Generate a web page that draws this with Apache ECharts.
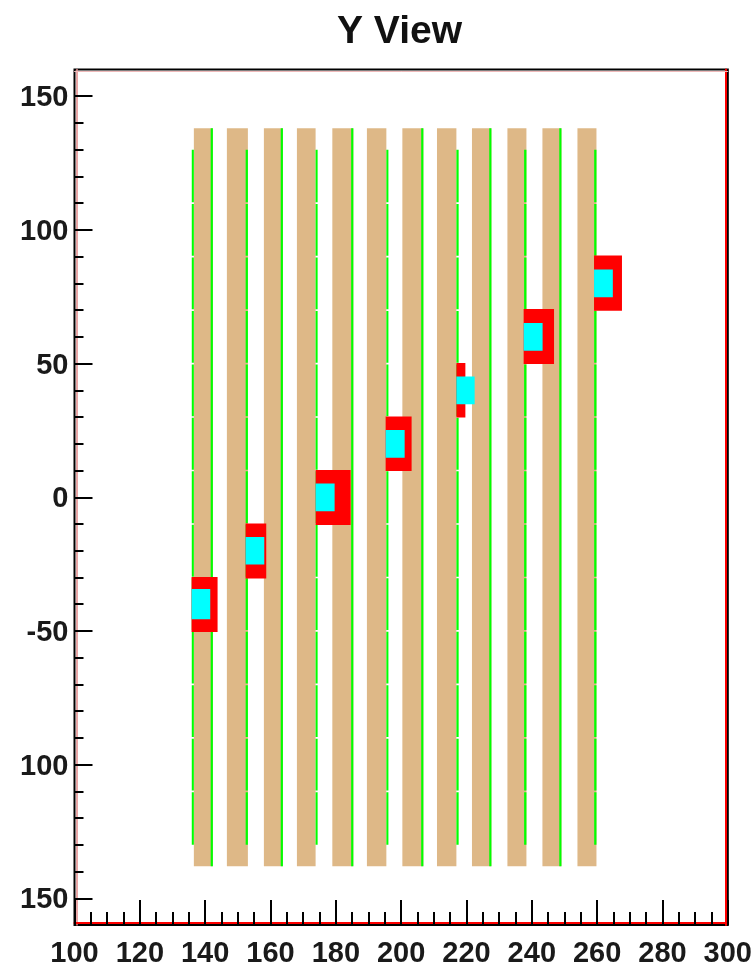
<!DOCTYPE html>
<html><head><meta charset="utf-8">
<style>html,body{margin:0;padding:0;background:#fff}#c{width:755px;height:968px}</style>
<script src="https://cdn.jsdelivr.net/npm/echarts@6/dist/echarts.min.js"></script>
</head><body><div id="c"></div>
<script>
const yTickValues = [150,100,50,0,-50,-100,-150];
const yTickLabels = ['150','100','50','0','-50','100','150'];
const yMinorValues = [140,130,120,110,90,80,70,60,40,30,20,10,-10,-20,-30,-40,-60,-70,-80,-90,-110,-120,-130,-140];

const tanLeft  = [136.54,146.65,157.98,168.09,178.93,189.52,200.37,210.97,221.68,232.53,243.25,253.97];
const tanRight = [142.36,153.08,163.80,173.81,185.36,195.47,206.80,216.91,227.63,238.35,249.07,259.79];
const tanTop = 138, tanBottom = -138;

const fullGreenLeft  = [141.70,163.14,184.70,206.14,226.97,248.41];
const fullGreenRight = [142.36,163.80,185.36,206.80,227.63,249.07];

const shortGreenLeft  = [135.90,152.40,173.81,195.47,216.91,237.65,259.10];
const shortGreenRight = [136.54,153.08,174.43,196.10,217.60,238.35,259.79];
const shortGreenTops    = [130,109.7,89.7,69.7,49.7,29.7,9.7,-10.3,-30.3,-50.3,-70.3,-90.3,-110.3];
const shortGreenBottoms = [110.3,90.3,70.3,50.3,30.3,10.3,-9.7,-29.7,-49.7,-69.7,-89.7,-109.7,-130];

const redLeft   = [135.83,152.37,173.81,195.25,216.90,237.50,259.05];
const redRight  = [143.80,158.70,184.53,203.20,219.66,246.80,267.60];
const redTop    = [-29.8,-9.8,10.2,30.2,50.2,70.4,90.4];
const redBottom = [-50.4,-30.4,-10.4,9.8,29.8,49.8,69.8];

const cyanRight  = [141.56,158.10,179.63,201.07,222.50,243.30,264.80];
const cyanTop    = [-34.3,-14.9,5.1,25.2,45.2,65.2,85.2];
const cyanBottom = [-45.6,-25.2,-5.2,14.8,34.8,54.8,74.8];

const tanRows = tanLeft.map((l,i)=>[l,tanRight[i],tanTop,tanBottom]);
const fullGreenRows = fullGreenLeft.map((l,i)=>[l,fullGreenRight[i],tanTop,tanBottom]);
const shortGreenRows = [];
shortGreenLeft.forEach((l,i)=>shortGreenTops.forEach((t,j)=>shortGreenRows.push([l,shortGreenRight[i],t,shortGreenBottoms[j]])));
const redRows = redLeft.map((l,i)=>[l,redRight[i],redTop[i],redBottom[i]]);
const cyanRows = redLeft.map((l,i)=>[l,cyanRight[i],cyanTop[i],cyanBottom[i]]);

function rects(rows,color,z){
  return {type:'custom',data:rows,z,silent:true,clip:true,
    encode:{x:[0,1],y:[2,3]},
    renderItem(p,api){
      const a=api.coord([api.value(0),api.value(2)]);
      const b=api.coord([api.value(1),api.value(3)]);
      return {type:'rect',shape:{x:a[0],y:a[1],width:b[0]-a[0],height:b[1]-a[1]},style:{fill:color}};
    }};
}
const font={fontFamily:'"Liberation Sans",Arial,sans-serif',fontWeight:'bold',fontSize:29,color:'#1a1a1a'};
const noAxis={axisLabel:{show:false},axisTick:{show:false},splitLine:{show:false}};
const chart=echarts.init(document.getElementById('c'),null,{renderer:'canvas'});
chart.setOption({
  animation:false,
  backgroundColor:'#fff',
  title:{text:'Y View',top:8,left:332,
    textStyle:{fontFamily:'"Liberation Sans",Arial,sans-serif',fontWeight:'bold',fontSize:39,color:'#111'}},
  grid:{left:74.5,right:26.5,top:69.5,bottom:41.5,show:true,borderColor:'#000',borderWidth:2,backgroundColor:'#fff'},
  xAxis:[
    {type:'value',min:100,max:300,interval:20,position:'bottom',
     axisLine:{show:false,onZero:false},splitLine:{show:false},
     axisTick:{show:true,inside:true,length:25,lineStyle:{color:'#000',width:2}},
     minorTick:{show:true,splitNumber:4,length:13,lineStyle:{color:'#000',width:2}},
     axisLabel:Object.assign({margin:14,showMinLabel:true,showMaxLabel:true,hideOverlap:false},font)},
    Object.assign({type:'value',min:100,max:300,position:'bottom',offset:-2,
     axisLine:{show:true,onZero:false,lineStyle:{color:'#ff0000',width:2}}},noAxis),
    Object.assign({type:'value',min:100,max:300,position:'top',offset:-1.5,
     axisLine:{show:true,onZero:false,lineStyle:{color:'#eeb9b9',width:1}}},noAxis)
  ],
  yAxis:[
    {type:'value',min:-160,max:160,position:'left',
     axisLine:{show:false,onZero:false},splitLine:{show:false},
     axisTick:{show:true,inside:true,length:18,customValues:yTickValues,lineStyle:{color:'#000',width:2}},
     axisLabel:Object.assign({margin:6,customValues:yTickValues,verticalAlign:'top',lineHeight:4,
       formatter:v=>yTickLabels[yTickValues.indexOf(v)]},font)},
    {type:'value',min:-160,max:160,position:'left',
     axisLine:{show:false,onZero:false},splitLine:{show:false},axisLabel:{show:false},
     axisTick:{show:true,inside:true,length:9,customValues:yMinorValues,lineStyle:{color:'#000',width:2}}},
    Object.assign({type:'value',min:-160,max:160,position:'right',offset:-2,
     axisLine:{show:true,onZero:false,lineStyle:{color:'#ff0000',width:2}}},noAxis),
    Object.assign({type:'value',min:-160,max:160,position:'left',offset:-2,
     axisLine:{show:true,onZero:false,lineStyle:{color:'#e28a8a',width:1.5}}},noAxis)
  ],
  series:[
    rects(tanRows,'#DEB887',2),
    rects(fullGreenRows,'#00FF00',3),
    rects(shortGreenRows,'#00FF00',3),
    rects(redRows,'#FF0000',4),
    rects(cyanRows,'#00FFFF',5)
  ]
});
</script></body></html>
